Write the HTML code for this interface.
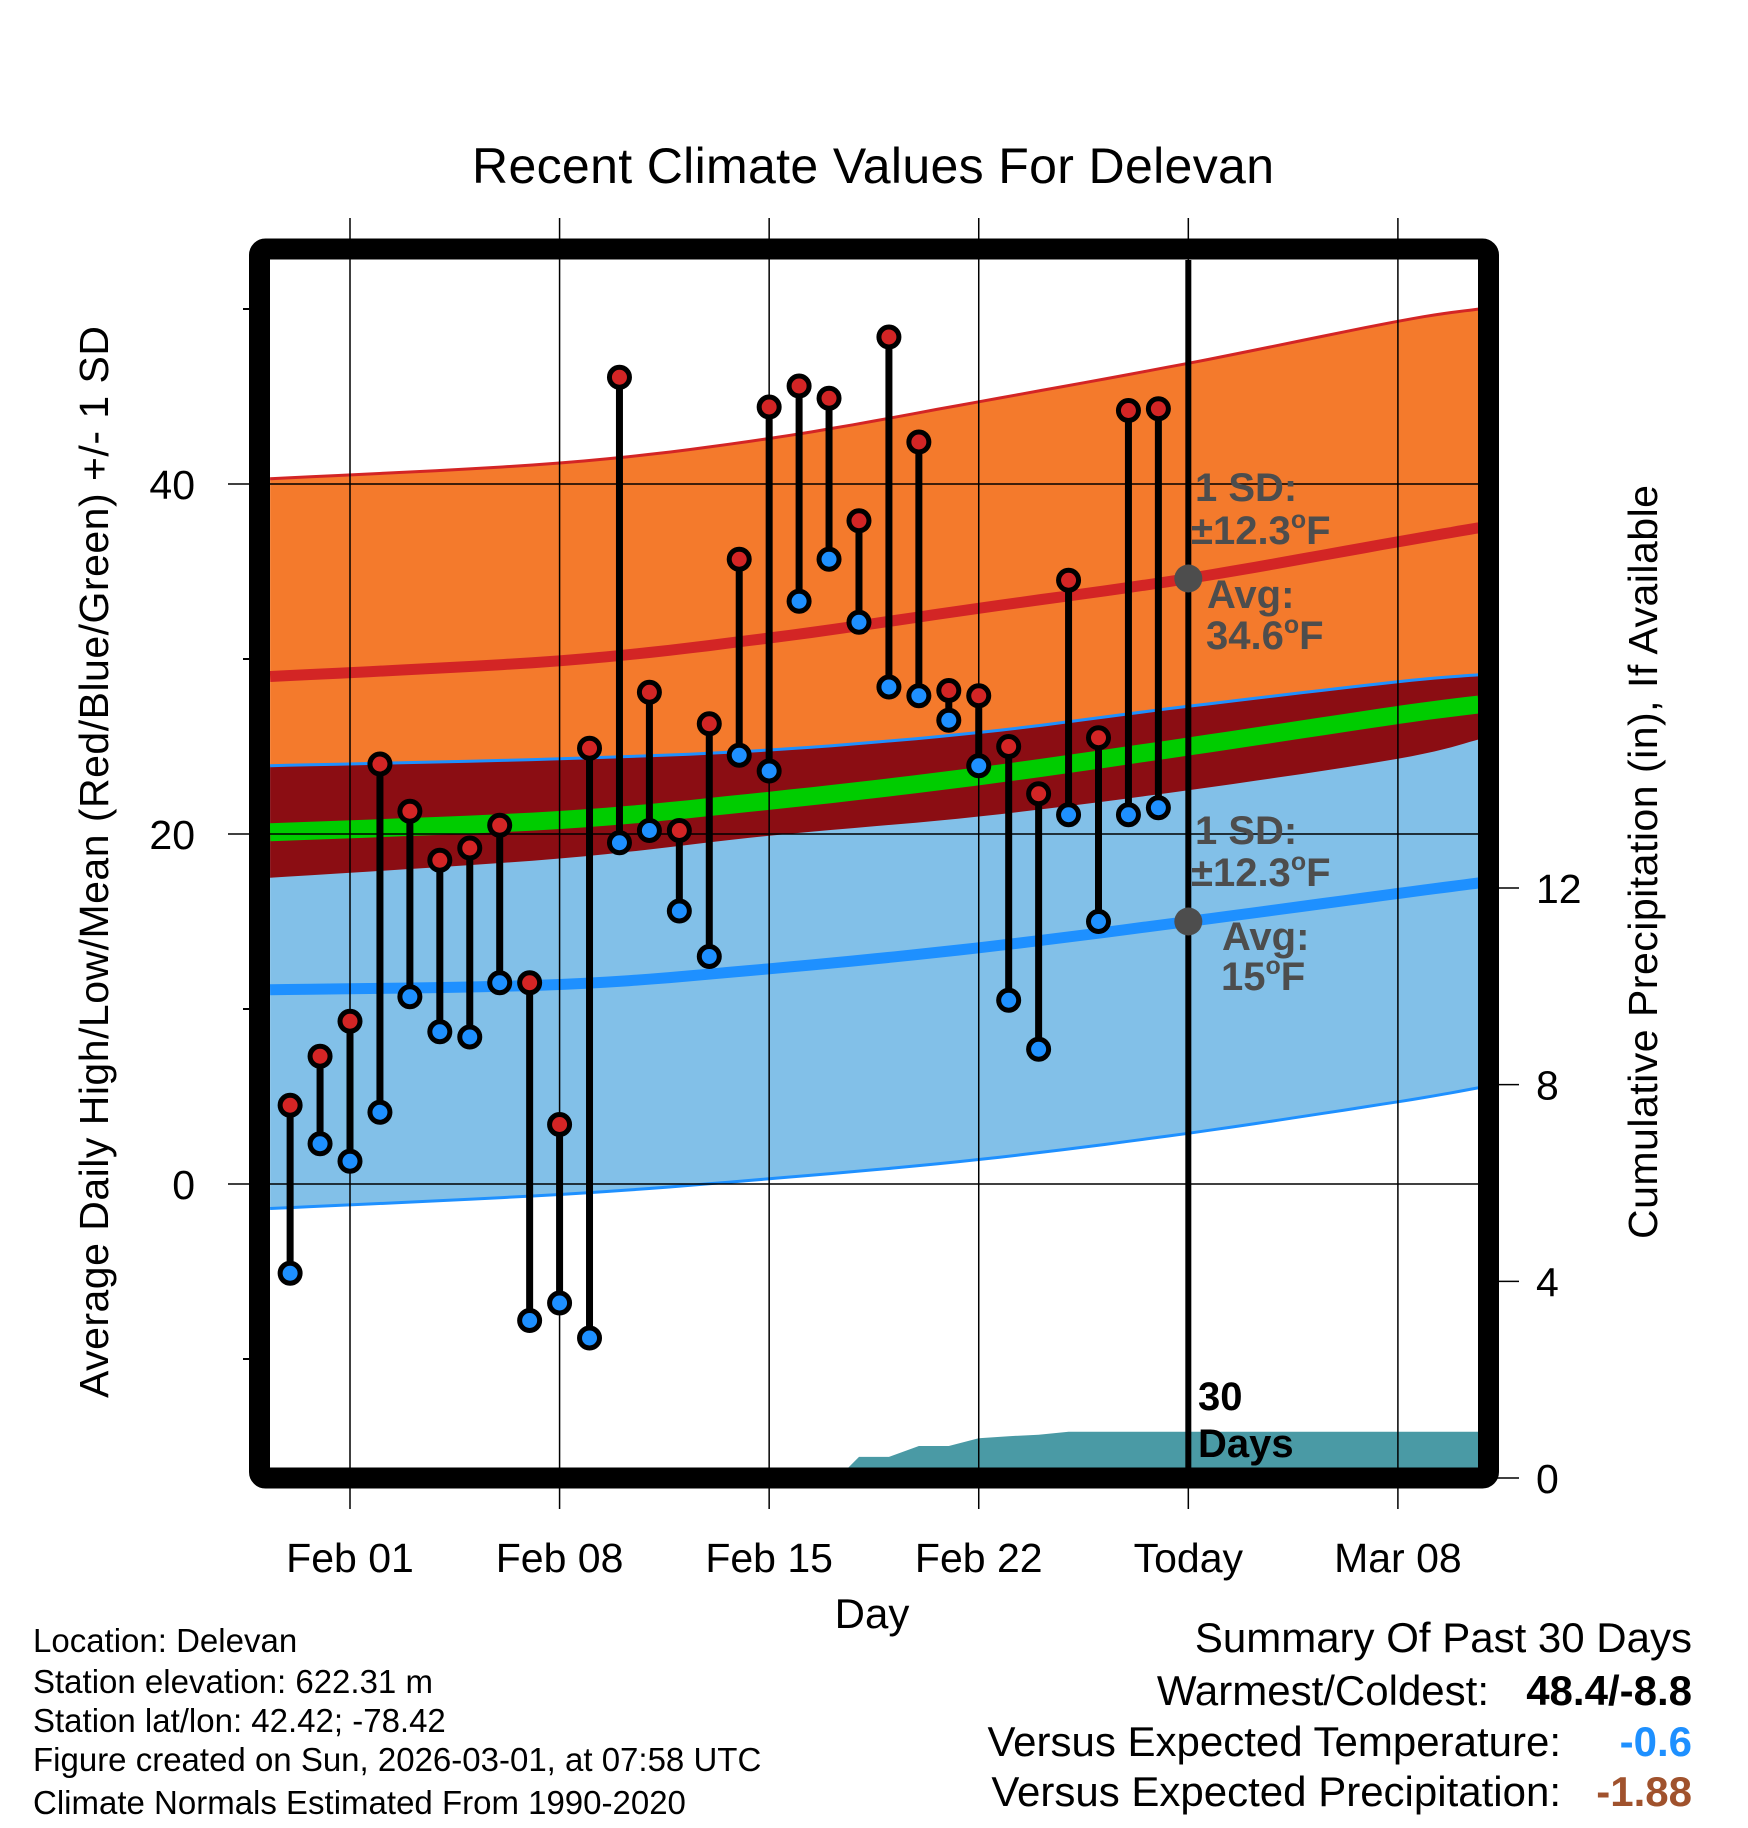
<!DOCTYPE html>
<html><head><meta charset="utf-8"><style>
html,body{margin:0;padding:0;background:#fff;}
svg{display:block;font-family:"Liberation Sans",Arial,sans-serif;}
</style></head><body>
<svg id="chart" xmlns="http://www.w3.org/2000/svg" width="1748" height="1828" viewBox="0 0 1748 1828">
<defs><clipPath id="plotclip"><rect x="270" y="260" width="1208" height="1208"/></clipPath></defs>
<rect width="1748" height="1828" fill="#fff"/>
<text x="873" y="183" font-size="50" text-anchor="middle" textLength="802">Recent Climate Values For Delevan</text>
<g id="fills" clip-path="url(#plotclip)"></g>
<g id="grid"></g>
<g id="marks" clip-path="url(#plotclip)"></g>
<g id="frame"></g>
<g id="annot" font-weight="bold" fill="#4d4d4d" font-size="40">
 <text x="1195" y="501">1 SD:</text>
 <text x="1191" y="544">±12.3<tspan font-size="25" dy="-16">o</tspan><tspan dy="16">F</tspan></text>
 <text x="1207" y="608">Avg:</text>
 <text x="1206" y="649">34.6<tspan font-size="25" dy="-16">o</tspan><tspan dy="16">F</tspan></text>
 <text x="1195" y="844">1 SD:</text>
 <text x="1191" y="886">±12.3<tspan font-size="25" dy="-16">o</tspan><tspan dy="16">F</tspan></text>
 <text x="1222" y="950">Avg:</text>
 <text x="1221" y="990">15<tspan font-size="25" dy="-16">o</tspan><tspan dy="16">F</tspan></text>
 <text x="1198" y="1410" fill="#000">30</text>
 <text x="1198" y="1457" fill="#000">Days</text>
</g>
<text x="872" y="1628" font-size="42" text-anchor="middle">Day</text>
<text transform="translate(108,862) rotate(-90)" font-size="41" text-anchor="middle" textLength="1072">Average Daily High/Low/Mean (Red/Blue/Green) +/- 1 SD</text>
<text transform="translate(1657,862) rotate(-90)" font-size="41" text-anchor="middle" textLength="754">Cumulative Precipitation (in), If Available</text>
<g font-size="33">
 <text x="33" y="1652">Location: Delevan</text>
 <text x="33" y="1693">Station elevation: 622.31 m</text>
 <text x="33" y="1732">Station lat/lon: 42.42; -78.42</text>
 <text x="33" y="1771">Figure created on Sun, 2026-03-01, at 07:58 UTC</text>
 <text x="33" y="1814">Climate Normals Estimated From 1990-2020</text>
</g>
<g font-size="42" text-anchor="end">
 <text x="1692" y="1652">Summary Of Past 30 Days</text>
 <text x="1489" y="1705">Warmest/Coldest:</text>
 <text x="1692" y="1705" font-weight="bold">48.4/-8.8</text>
 <text x="1561" y="1756">Versus Expected Temperature:</text>
 <text x="1692" y="1756" font-weight="bold" fill="#1e90ff">-0.6</text>
 <text x="1561" y="1806">Versus Expected Precipitation:</text>
 <text x="1692" y="1806" font-weight="bold" fill="#a0522d">-1.88</text>
</g>
</svg>
<script>
// data (day offsets relative to Feb 01)
const normDays=[-2.67,7,14,21,28,35,37.7];
const highSdUp=[40.3,41.2,42.6,44.7,46.9,49.3,50.0];
const highAvg=[29.0,29.9,31.2,32.9,34.6,36.7,37.5];
const highSdDn=[17.5,18.6,19.9,21.0,22.5,24.3,25.4];
const meanAvg=[20.1,20.8,21.9,23.3,25.0,26.8,27.4];
const lowSdUp=[23.9,24.3,24.8,25.8,27.3,28.7,29.1];
const lowAvg=[11.1,11.4,12.3,13.5,15.0,16.6,17.2];
const lowSdDn=[-1.4,-0.6,0.3,1.4,2.9,4.7,5.5];
const obsStart=-2;
const highs=[4.5,7.3,9.3,24,21.3,18.5,19.2,20.5,11.5,3.4,24.9,46.1,28.1,20.2,26.3,35.7,44.4,45.6,44.9,37.9,48.4,42.4,28.2,27.9,25,22.3,34.5,25.5,44.2,44.3];
const lows=[-5.1,2.3,1.3,4.1,10.7,8.7,8.4,11.5,-7.8,-6.8,-8.8,19.5,20.2,15.6,13,24.5,23.6,33.3,35.7,32.1,28.4,27.9,26.5,23.9,10.5,7.7,21.1,15,21.1,21.5];
const precipDays=[16.3,17,18,19,20,21,22,23,24,37.7];
const precipCum=[0,0.43,0.43,0.65,0.65,0.81,0.85,0.88,0.94,0.94];
const xTickDays=[0,7,14,21,28,35];
const xTickLabels=["Feb 01","Feb 08","Feb 15","Feb 22","Today","Mar 08"];
const yTicks=[0,20,40];
const yMinor=[-10,10,30,50];
const y2Ticks=[0,4,8,12];
const todayDay=28, todayHighAvg=34.6, todayLowAvg=15.0;

const NS="http://www.w3.org/2000/svg";
const X=d=>350+d*29.94;
const Y=v=>1184-17.5*v;
const YP=p=>1478-49.17*p;
function mk(tag,attrs,parent){const e=document.createElementNS(NS,tag);for(const k in attrs)e.setAttribute(k,attrs[k]);parent.appendChild(e);return e;}
// smooth curve via Catmull-Rom sampling
function curve(vals){
 const P=normDays.map((d,i)=>[X(d),Y(vals[i])]);const out=[];
 for(let i=0;i<P.length-1;i++){
  const p0=P[Math.max(0,i-1)],p1=P[i],p2=P[i+1],p3=P[Math.min(P.length-1,i+2)];
  for(let s=0;s<10;s++){const t=s/10,t2=t*t,t3=t2*t;
   const f=(a,b,c,d)=>0.5*((2*b)+(-a+c)*t+(2*a-5*b+4*c-d)*t2+(-a+3*b-3*c+d)*t3);
   out.push([f(p0[0],p1[0],p2[0],p3[0]),f(p0[1],p1[1],p2[1],p3[1])]);}
 }
 out.push(P[P.length-1]);return out;
}
const str=a=>a.map(p=>p[0].toFixed(1)+","+p[1].toFixed(1));
function band(a,b){return str(curve(a)).concat(str(curve(b)).reverse()).join(" ");}
const fills=document.getElementById("fills");
let e;
e=mk("polygon",{points:band(highSdUp,highSdDn),fill:"#f47a2c"},fills);


e=mk("polygon",{points:band(lowSdUp,lowSdDn),fill:"#82c0e8"},fills);


e=mk("polygon",{points:band(lowSdUp,highSdDn),fill:"#8b0d13"},fills);


const lines=[[meanAvg,"#00cc00",18,'mean-line'],[highSdUp,"#d32525",3,'high-sd-upper-line'],[highAvg,"#d32525",11,'high-avg-line'],[lowSdUp,"#1e90ff",3,'low-sd-upper-line'],[lowAvg,"#1e90ff",11,'low-avg-line'],[lowSdDn,"#1e90ff",3,'low-sd-lower-line']];
lines.forEach(l=>{
 const p=mk("polyline",{points:str(curve(l[0])).join(" "),fill:"none",stroke:l[1],"stroke-width":l[2]},fills);
 
 
});
// precip
const pp=precipDays.map((d,i)=>X(d).toFixed(1)+","+YP(precipCum[i]).toFixed(1));
pp.push(X(precipDays[precipDays.length-1]).toFixed(1)+","+YP(0));
pp.unshift(X(precipDays[0]).toFixed(1)+","+YP(0));
e=mk("polygon",{points:pp.join(" "),fill:"#4a9aa5"},fills);


// grid
const grid=document.getElementById("grid");
xTickDays.forEach((d,i)=>{
 const g=mk("line",{x1:X(d),x2:X(d),y1:218,y2:1509,stroke:"#000","stroke-width":1.5},grid);
 
 
 const t=mk("text",{x:X(d),y:1572,"font-size":41,"text-anchor":"middle"},grid);
 t.textContent=xTickLabels[i];
 
 
});
yTicks.forEach(v=>{
 const g=mk("line",{x1:228,x2:1478,y1:Y(v),y2:Y(v),stroke:"#000","stroke-width":1.5},grid);
 
 
 const t=mk("text",{x:195,y:Y(v)+15,"font-size":41,"text-anchor":"end"},grid);
 t.textContent=v;
 
 
});
yMinor.forEach(v=>{
 const g=mk("line",{x1:243,x2:252,y1:Y(v),y2:Y(v),stroke:"#000","stroke-width":2},grid);
 
 
});
y2Ticks.forEach(p=>{
 const g=mk("line",{x1:1497,x2:1519,y1:YP(p),y2:YP(p),stroke:"#000","stroke-width":1.5},grid);
 
 
 const t=mk("text",{x:1536,y:YP(p)+15,"font-size":41},grid);
 t.textContent=p;
 
 
});
// marks
const marks=document.getElementById("marks");
e=mk("line",{x1:X(todayDay),x2:X(todayDay),y1:250,y2:1478,stroke:"#000","stroke-width":6},marks);


highs.forEach((h,i)=>{
 const x=X(obsStart+i);
 const l=mk("line",{x1:x,x2:x,y1:Y(h),y2:Y(lows[i]),stroke:"#000","stroke-width":7},marks);
 
 
});
highs.forEach((h,i)=>{
 const x=X(obsStart+i);
 const c1=mk("circle",{cx:x,cy:Y(h),r:10,fill:"#d32525",stroke:"#000","stroke-width":5},marks);
 
 
 const c2=mk("circle",{cx:x,cy:Y(lows[i]),r:10,fill:"#1e90ff",stroke:"#000","stroke-width":5},marks);
 
 
});
e=mk("circle",{cx:X(todayDay),cy:Y(todayHighAvg),r:14,fill:"#4d4d4d"},marks);


e=mk("circle",{cx:X(todayDay),cy:Y(todayLowAvg),r:14,fill:"#4d4d4d"},marks);


// frame
e=mk("rect",{x:259.5,y:249,width:1229,height:1229,rx:6,fill:"none",stroke:"#000","stroke-width":21},document.getElementById("frame"));


</script>
</body></html>
